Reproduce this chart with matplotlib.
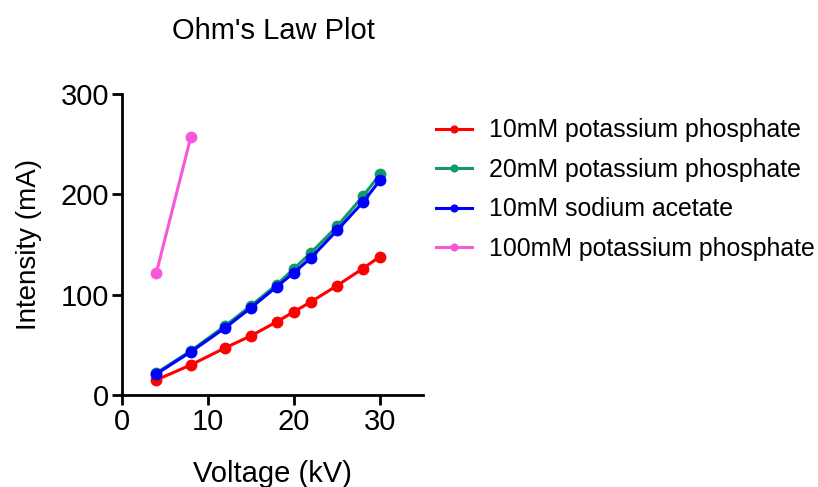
import matplotlib
matplotlib.use('Agg')
import matplotlib.pyplot as plt

plt.rcParams['font.family'] = ['Liberation Sans', 'DejaVu Sans']

# data
VOLTAGE = [4, 8, 12, 15, 18, 20, 22, 25, 28, 30]
K_PHOS_10 = [15, 30, 47, 59, 73, 83, 93, 109, 126, 138]
K_PHOS_20 = [22, 44, 69, 89, 110, 126, 142, 168, 198, 220]
NA_ACET_10 = [21, 43, 67, 87, 108, 122, 137, 164, 192, 214]
VOLTAGE_100 = [4, 8]
K_PHOS_100 = [122, 257]

SERIES = [
    ('10mM potassium phosphate', VOLTAGE, K_PHOS_10, '#ff0000'),
    ('20mM potassium phosphate', VOLTAGE, K_PHOS_20, '#119966'),
    ('10mM sodium acetate', VOLTAGE, NA_ACET_10, '#0000ff'),
    ('100mM potassium phosphate', VOLTAGE_100, K_PHOS_100, '#f957d9'),
]

W, H = 818, 487
fig = plt.figure(figsize=(W / 100, H / 100), dpi=100)
ax = fig.add_axes([122 / W, 1 - 395 / H, (423 - 122) / W, (395 - 94) / H])

# draw green after blue so it sits on top like in the reference
order = [0, 2, 1, 3]
handles = {}
for i in order:
    label, x, y, color = SERIES[i]
    line, = ax.plot(x, y, color=color, lw=2.2, marker='o', ms=7.5,
                    label=label, clip_on=False, zorder=3 + i)
    handles[i] = line

ax.set_xlim(0, 35)
ax.set_ylim(0, 300)
ax.set_xticks([0, 10, 20, 30])
ax.set_yticks([0, 100, 200, 300])

for side in ['top', 'right']:
    ax.spines[side].set_visible(False)
for side in ['left', 'bottom']:
    ax.spines[side].set_linewidth(2)
ax.tick_params(axis='both', direction='out', length=7, width=2,
               labelsize=21, pad=2)

ax.set_xlabel('Voltage (kV)', fontsize=21, labelpad=18)
ax.set_ylabel('Intensity (mA)', fontsize=20, labelpad=14)
fig.text(273 / W, 1 - 31 / H, "Ohm's Law Plot", fontsize=21,
         ha='center', va='center')

fig.legend([handles[i] for i in range(4)], [s[0] for s in SERIES],
           loc='upper left', bbox_to_anchor=(414 / W, 1 - 96 / H),
           frameon=False, fontsize=17.9, handlelength=1.42, handletextpad=0.68,
           labelspacing=0.62, markerscale=0.65)

fig.savefig('out.png', dpi=100)
